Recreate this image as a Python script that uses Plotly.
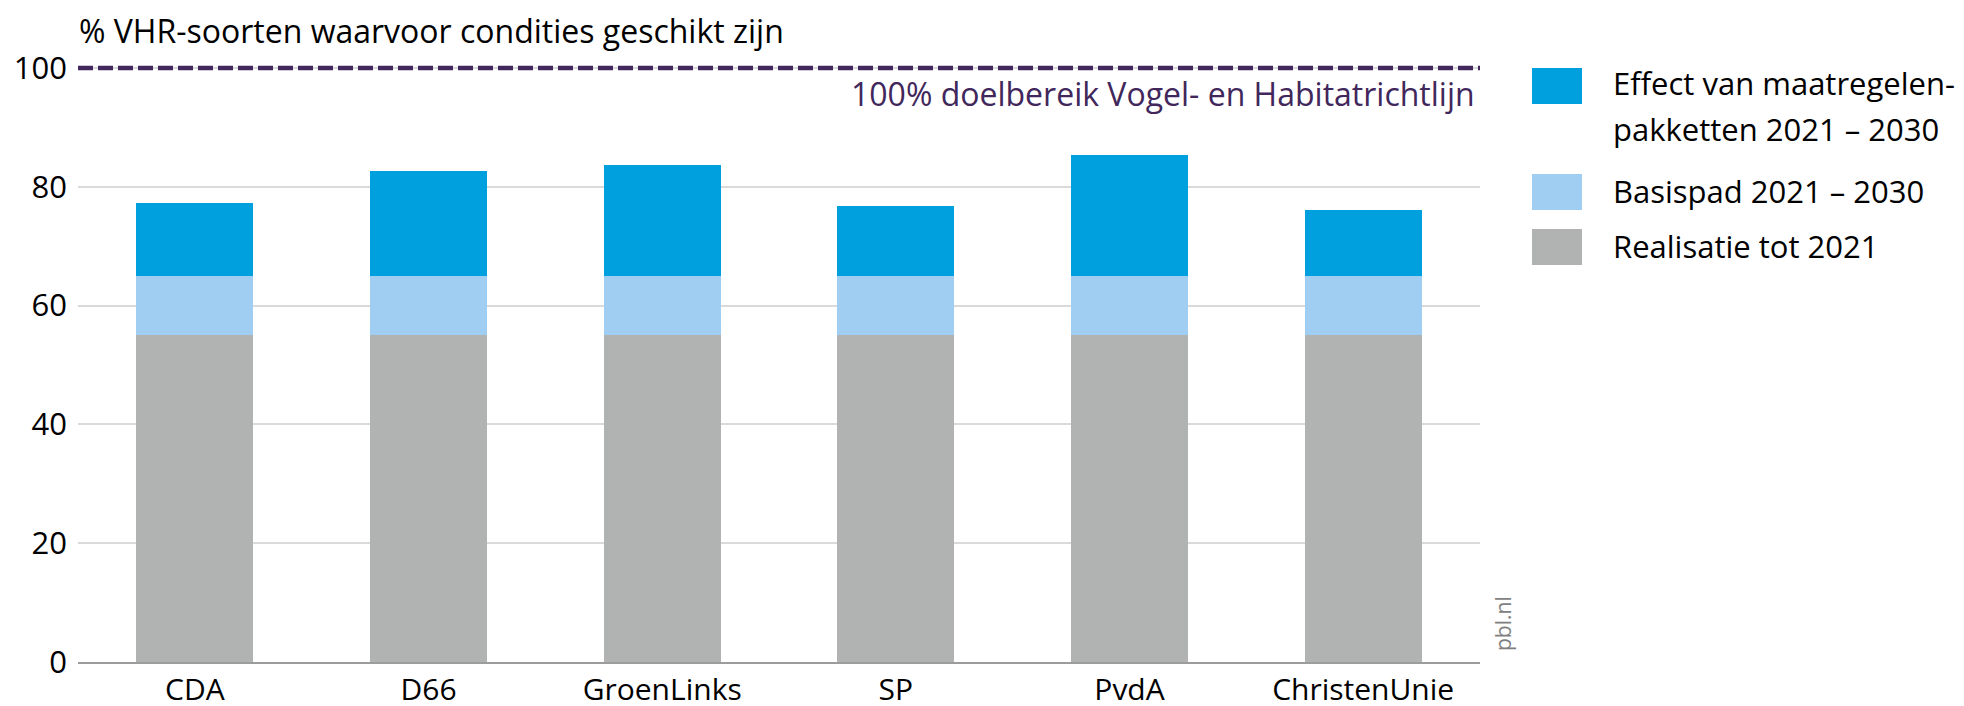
import plotly.graph_objects as go

# ---- data ----
categories = ["CDA", "D66", "GroenLinks", "SP", "PvdA", "ChristenUnie"]
realisatie = [55, 55, 55, 55, 55, 55]
basispad = [10, 10, 10, 10, 10, 10]
effect = [12.2, 17.7, 18.7, 11.8, 20.4, 11.0]
target = 100
y_ticks = [0, 20, 40, 60, 80, 100]

series_names = [
    "Realisatie tot 2021",
    "Basispad 2021 – 2030",
    "Effect van maatregelen-pakketten 2021 – 2030",
]
colors = ["#b1b2b2", "#9fcef2", "#009fde"]

# ---- layout geometry (pixels, screen coordinates; page body has 8px margin) ----
W, H = 1964, 706
OFF = 8
PLOT_L, PLOT_R, PLOT_T, PLOT_B = 78, 1480, 56, 662   # screen px
L = PLOT_L - OFF
R = W - (PLOT_R - OFF)
T = PLOT_T - OFF
B = H - (PLOT_B - OFF)
PW = W - L - R
PH = H - T - B
Y_MAX = 102

def px(x):
    return (x - OFF - L) / PW

def py(y):
    return (H - B - (y - OFF)) / PH

FONT = "Open Sans"
FS = 31

fig = go.Figure()
for name, vals, col in zip(series_names, [realisatie, basispad, effect], colors):
    fig.add_trace(go.Bar(
        x=categories, y=vals, name=name,
        marker=dict(color=col, line=dict(width=0)),
        showlegend=False,
    ))

fig.update_layout(
    width=W, height=H,
    barmode="stack", bargap=0.5,
    margin=dict(l=L, r=R, t=T, b=B, autoexpand=False),
    plot_bgcolor="white", paper_bgcolor="white",
    font=dict(family=FONT, size=FS, color="#000000"),
)
fig.update_xaxes(
    automargin=False,
    showgrid=False, showline=True, linecolor="#9c9c9c", linewidth=2,
    ticks="", ticklabelstandoff=0, tickfont=dict(size=30, color="#000"),
)
fig.update_yaxes(
    automargin=False,
    range=[0, Y_MAX], tickvals=y_ticks, showgrid=True, gridcolor="#dadada",
    gridwidth=1.5, zeroline=False, showline=False, ticks="",
    ticklabelstandoff=10, tickfont=dict(size=FS, color="#000"),
)

# target dashed line
fig.add_shape(type="line", xref="paper", x0=0, x1=1, yref="y", y0=target, y1=target,
              line=dict(color="#41275b", width=4.5, dash="15px,5px"), layer="above")

annotations = [
    dict(text="% VHR-soorten waarvoor condities geschikt zijn", x=px(78), y=py(OFF),
         xanchor="left", yanchor="top", borderpad=0, font=dict(size=32, color="#000")),
    dict(text="100% doelbereik Vogel- en Habitatrichtlijn", x=px(1477), y=py(93),
         xanchor="right", yanchor="middle", font=dict(size=32, color="#41275b")),
    dict(text="pbl.nl", x=px(1503), y=py(624), textangle=-90,
         xanchor="center", yanchor="middle", font=dict(size=21, color="#808080")),
    dict(text="Effect van maatregelen-", x=px(1611), y=py(83),
         xanchor="left", yanchor="middle", font=dict(size=FS, color="#000")),
    dict(text="pakketten 2021 – 2030", x=px(1611), y=py(129),
         xanchor="left", yanchor="middle", font=dict(size=FS, color="#000")),
    dict(text="Basispad 2021 – 2030", x=px(1611), y=py(191),
         xanchor="left", yanchor="middle", font=dict(size=FS, color="#000")),
    dict(text="Realisatie tot 2021", x=px(1611), y=py(246),
         xanchor="left", yanchor="middle", font=dict(size=FS, color="#000")),
]
for a in annotations:
    fig.add_annotation(xref="paper", yref="paper", showarrow=False, **a)

# legend swatches
for (y0, y1), col in zip([(68, 104), (174, 210), (229, 265)], [colors[2], colors[1], colors[0]]):
    fig.add_shape(type="rect", xref="paper", yref="paper",
                  x0=px(1532), x1=px(1582), y0=py(y1), y1=py(y0),
                  fillcolor=col, line=dict(width=0))

fig.write_html("out.html")
